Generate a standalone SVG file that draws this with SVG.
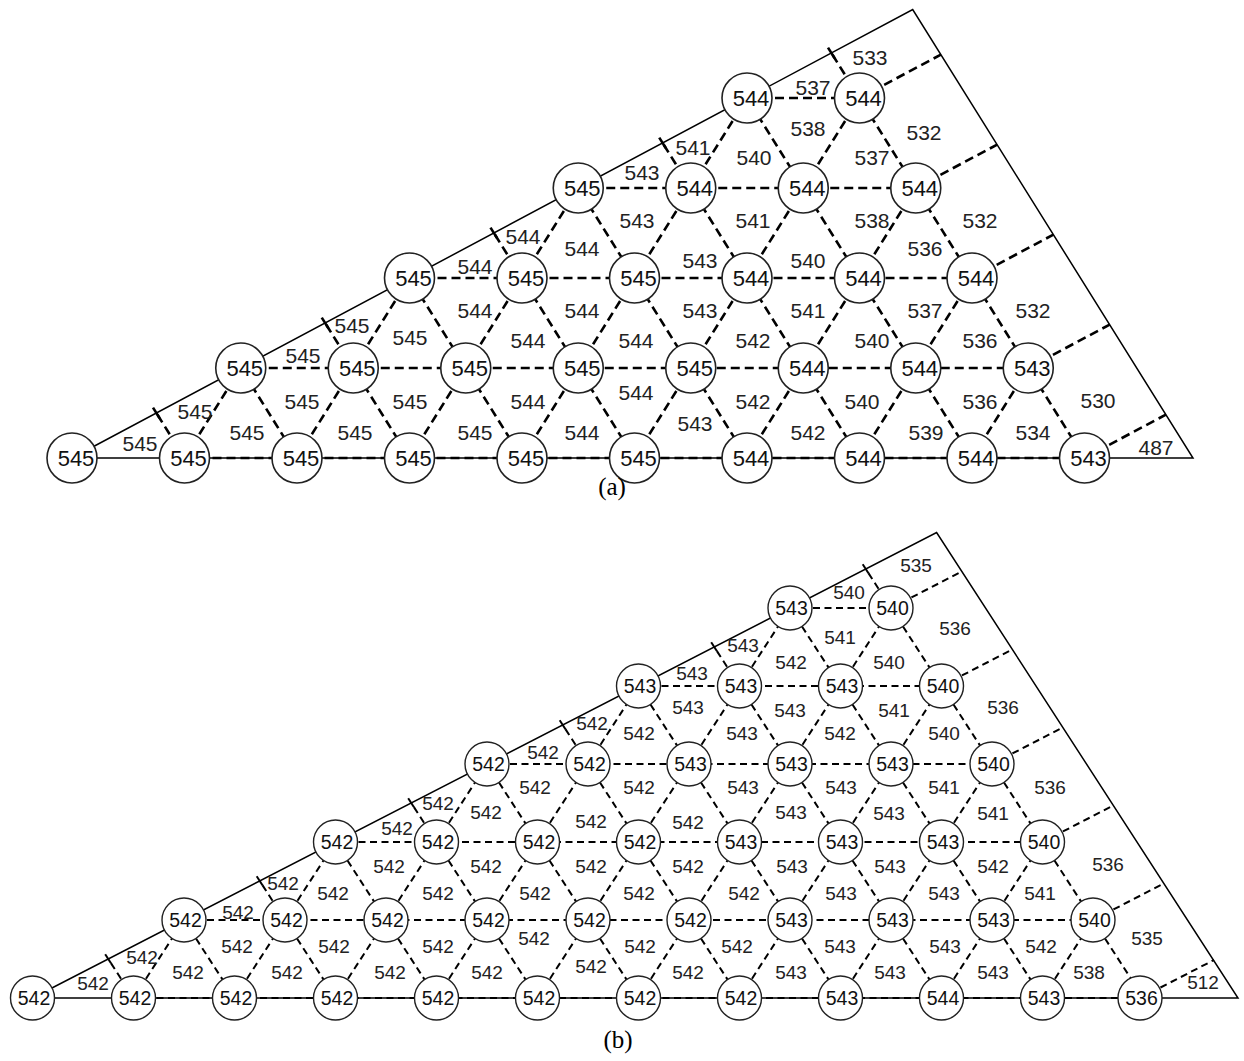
<svg xmlns="http://www.w3.org/2000/svg" width="1244" height="1061" viewBox="0 0 1244 1061">
<style>
.edge{fill:none;stroke:#000;stroke-width:1.5}
.da{fill:none;stroke:#000;stroke-width:2.6;stroke-dasharray:9 5}
.db{fill:none;stroke:#000;stroke-width:2;stroke-dasharray:7 4.5}
.na circle{fill:#fff;stroke:#222;stroke-width:1.6}
.nb circle{fill:#fff;stroke:#222;stroke-width:1.4}
.na text,.nb text,.la,.lb{font-family:"Liberation Sans",Arial,sans-serif;text-anchor:middle;fill:#111}
.na text{font-size:22px}
.nb text{font-size:19.5px}
.la{font-size:21px;fill:#222}
.lb{font-size:19px;fill:#222}
.cap{font-family:"Liberation Serif","Times New Roman",serif;font-size:25px;text-anchor:middle;fill:#000}
</style>
<defs>
<path id="va" d="M-56.25,90L0,0L56.25,90"/>
<g id="tka"><path d="M0,0L-28.1,-45"/><path d="M-24.9,-39.9L-31.5,-50.4" stroke-dasharray="none"/></g>
<path id="rda" d="M0,0L81.4,-43.4"/>
<path id="vb" d="M-50.5,78L0,0L50.5,78"/>
<g id="tkb"><path d="M0,0L-25.25,-39"/><path d="M-22.5,-34.8L-28.3,-43.7" stroke-dasharray="none"/></g>
<path id="rdb" d="M0,0L70.9,-36.5"/>
</defs>
<rect width="1244" height="1061" fill="#fff"/>

<g id="outline">
<polygon class="edge" points="72,458 1193,458 912.7,9.6"/>
<polygon class="edge" points="32.5,998 1238,998 936.6,532.5"/>
</g>

<g id="connectors">
<g id="connectors-a" class="da">
<path d="M184.5,458H1084.5M240.75,368H1028.25M409.5,278H972M578.25,188H915.75M747,98H859.5"/>
<use href="#va" x="240.75" y="368"/><use href="#va" x="353.25" y="368"/><use href="#va" x="465.75" y="368"/><use href="#va" x="578.25" y="368"/><use href="#va" x="690.75" y="368"/><use href="#va" x="803.25" y="368"/><use href="#va" x="915.75" y="368"/><use href="#va" x="1028.25" y="368"/>
<use href="#va" x="409.5" y="278"/><use href="#va" x="522" y="278"/><use href="#va" x="634.5" y="278"/><use href="#va" x="747" y="278"/><use href="#va" x="859.5" y="278"/><use href="#va" x="972" y="278"/>
<use href="#va" x="578.25" y="188"/><use href="#va" x="690.75" y="188"/><use href="#va" x="803.25" y="188"/><use href="#va" x="915.75" y="188"/>
<use href="#va" x="747" y="98"/><use href="#va" x="859.5" y="98"/>
<use href="#tka" x="184.5" y="458"/><use href="#tka" x="353.25" y="368"/><use href="#tka" x="522" y="278"/><use href="#tka" x="690.75" y="188"/><use href="#tka" x="859.5" y="98"/>
<use href="#rda" x="1084.5" y="458"/><use href="#rda" x="1028.25" y="368"/><use href="#rda" x="972" y="278"/><use href="#rda" x="915.75" y="188"/><use href="#rda" x="859.5" y="98"/>
</g>
<g id="connectors-b" class="db">
<path d="M133.5,998H1140M184,920H1093M335.5,842H1042.5M487,764H992M638.5,686H941.5M790,608H891M1140,998L1214,960"/>
<use href="#vb" x="184" y="920"/><use href="#vb" x="285" y="920"/><use href="#vb" x="386" y="920"/><use href="#vb" x="487" y="920"/><use href="#vb" x="588" y="920"/><use href="#vb" x="689" y="920"/><use href="#vb" x="790" y="920"/><use href="#vb" x="891" y="920"/><use href="#vb" x="992" y="920"/><use href="#vb" x="1093" y="920"/>
<use href="#vb" x="335.5" y="842"/><use href="#vb" x="436.5" y="842"/><use href="#vb" x="537.5" y="842"/><use href="#vb" x="638.5" y="842"/><use href="#vb" x="739.5" y="842"/><use href="#vb" x="840.5" y="842"/><use href="#vb" x="941.5" y="842"/><use href="#vb" x="1042.5" y="842"/>
<use href="#vb" x="487" y="764"/><use href="#vb" x="588" y="764"/><use href="#vb" x="689" y="764"/><use href="#vb" x="790" y="764"/><use href="#vb" x="891" y="764"/><use href="#vb" x="992" y="764"/>
<use href="#vb" x="638.5" y="686"/><use href="#vb" x="739.5" y="686"/><use href="#vb" x="840.5" y="686"/><use href="#vb" x="941.5" y="686"/>
<use href="#vb" x="790" y="608"/><use href="#vb" x="891" y="608"/>
<use href="#tkb" x="133.5" y="998"/><use href="#tkb" x="285" y="920"/><use href="#tkb" x="436.5" y="842"/><use href="#tkb" x="588" y="764"/><use href="#tkb" x="739.5" y="686"/><use href="#tkb" x="891" y="608"/>
<use href="#rdb" x="1093" y="920"/><use href="#rdb" x="1042.5" y="842"/><use href="#rdb" x="992" y="764"/><use href="#rdb" x="941.5" y="686"/><use href="#rdb" x="891" y="608"/>
</g>
</g>

<g id="nodes-a">
<g id="a0-0" class="na" transform="translate(72,458)"><circle r="25"/><text x="4" y="8">545</text></g>
<g id="a0-1" class="na" transform="translate(184.5,458)"><circle r="25"/><text x="4" y="8">545</text></g>
<g id="a0-2" class="na" transform="translate(297,458)"><circle r="25"/><text x="4" y="8">545</text></g>
<g id="a0-3" class="na" transform="translate(409.5,458)"><circle r="25"/><text x="4" y="8">545</text></g>
<g id="a0-4" class="na" transform="translate(522,458)"><circle r="25"/><text x="4" y="8">545</text></g>
<g id="a0-5" class="na" transform="translate(634.5,458)"><circle r="25"/><text x="4" y="8">545</text></g>
<g id="a0-6" class="na" transform="translate(747,458)"><circle r="25"/><text x="4" y="8">544</text></g>
<g id="a0-7" class="na" transform="translate(859.5,458)"><circle r="25"/><text x="4" y="8">544</text></g>
<g id="a0-8" class="na" transform="translate(972,458)"><circle r="25"/><text x="4" y="8">544</text></g>
<g id="a0-9" class="na" transform="translate(1084.5,458)"><circle r="25"/><text x="4" y="8">543</text></g>
<g id="a1-0" class="na" transform="translate(240.75,368)"><circle r="25"/><text x="4" y="8">545</text></g>
<g id="a1-1" class="na" transform="translate(353.25,368)"><circle r="25"/><text x="4" y="8">545</text></g>
<g id="a1-2" class="na" transform="translate(465.75,368)"><circle r="25"/><text x="4" y="8">545</text></g>
<g id="a1-3" class="na" transform="translate(578.25,368)"><circle r="25"/><text x="4" y="8">545</text></g>
<g id="a1-4" class="na" transform="translate(690.75,368)"><circle r="25"/><text x="4" y="8">545</text></g>
<g id="a1-5" class="na" transform="translate(803.25,368)"><circle r="25"/><text x="4" y="8">544</text></g>
<g id="a1-6" class="na" transform="translate(915.75,368)"><circle r="25"/><text x="4" y="8">544</text></g>
<g id="a1-7" class="na" transform="translate(1028.25,368)"><circle r="25"/><text x="4" y="8">543</text></g>
<g id="a2-0" class="na" transform="translate(409.5,278)"><circle r="25"/><text x="4" y="8">545</text></g>
<g id="a2-1" class="na" transform="translate(522,278)"><circle r="25"/><text x="4" y="8">545</text></g>
<g id="a2-2" class="na" transform="translate(634.5,278)"><circle r="25"/><text x="4" y="8">545</text></g>
<g id="a2-3" class="na" transform="translate(747,278)"><circle r="25"/><text x="4" y="8">544</text></g>
<g id="a2-4" class="na" transform="translate(859.5,278)"><circle r="25"/><text x="4" y="8">544</text></g>
<g id="a2-5" class="na" transform="translate(972,278)"><circle r="25"/><text x="4" y="8">544</text></g>
<g id="a3-0" class="na" transform="translate(578.25,188)"><circle r="25"/><text x="4" y="8">545</text></g>
<g id="a3-1" class="na" transform="translate(690.75,188)"><circle r="25"/><text x="4" y="8">544</text></g>
<g id="a3-2" class="na" transform="translate(803.25,188)"><circle r="25"/><text x="4" y="8">544</text></g>
<g id="a3-3" class="na" transform="translate(915.75,188)"><circle r="25"/><text x="4" y="8">544</text></g>
<g id="a4-0" class="na" transform="translate(747,98)"><circle r="25"/><text x="4" y="8">544</text></g>
<g id="a4-1" class="na" transform="translate(859.5,98)"><circle r="25"/><text x="4" y="8">544</text></g>
</g>

<g id="nodes-b">
<g id="b0-0" class="nb" transform="translate(32.5,998)"><circle r="22"/><text x="1.5" y="7">542</text></g>
<g id="b0-1" class="nb" transform="translate(133.5,998)"><circle r="22"/><text x="1.5" y="7">542</text></g>
<g id="b0-2" class="nb" transform="translate(234.5,998)"><circle r="22"/><text x="1.5" y="7">542</text></g>
<g id="b0-3" class="nb" transform="translate(335.5,998)"><circle r="22"/><text x="1.5" y="7">542</text></g>
<g id="b0-4" class="nb" transform="translate(436.5,998)"><circle r="22"/><text x="1.5" y="7">542</text></g>
<g id="b0-5" class="nb" transform="translate(537.5,998)"><circle r="22"/><text x="1.5" y="7">542</text></g>
<g id="b0-6" class="nb" transform="translate(638.5,998)"><circle r="22"/><text x="1.5" y="7">542</text></g>
<g id="b0-7" class="nb" transform="translate(739.5,998)"><circle r="22"/><text x="1.5" y="7">542</text></g>
<g id="b0-8" class="nb" transform="translate(840.5,998)"><circle r="22"/><text x="1.5" y="7">543</text></g>
<g id="b0-9" class="nb" transform="translate(941.5,998)"><circle r="22"/><text x="1.5" y="7">544</text></g>
<g id="b0-10" class="nb" transform="translate(1042.5,998)"><circle r="22"/><text x="1.5" y="7">543</text></g>
<g id="b0-11" class="nb" transform="translate(1140,998)"><circle r="22"/><text x="1.5" y="7">536</text></g>
<g id="b1-0" class="nb" transform="translate(184,920)"><circle r="22"/><text x="1.5" y="7">542</text></g>
<g id="b1-1" class="nb" transform="translate(285,920)"><circle r="22"/><text x="1.5" y="7">542</text></g>
<g id="b1-2" class="nb" transform="translate(386,920)"><circle r="22"/><text x="1.5" y="7">542</text></g>
<g id="b1-3" class="nb" transform="translate(487,920)"><circle r="22"/><text x="1.5" y="7">542</text></g>
<g id="b1-4" class="nb" transform="translate(588,920)"><circle r="22"/><text x="1.5" y="7">542</text></g>
<g id="b1-5" class="nb" transform="translate(689,920)"><circle r="22"/><text x="1.5" y="7">542</text></g>
<g id="b1-6" class="nb" transform="translate(790,920)"><circle r="22"/><text x="1.5" y="7">543</text></g>
<g id="b1-7" class="nb" transform="translate(891,920)"><circle r="22"/><text x="1.5" y="7">543</text></g>
<g id="b1-8" class="nb" transform="translate(992,920)"><circle r="22"/><text x="1.5" y="7">543</text></g>
<g id="b1-9" class="nb" transform="translate(1093,920)"><circle r="22"/><text x="1.5" y="7">540</text></g>
<g id="b2-0" class="nb" transform="translate(335.5,842)"><circle r="22"/><text x="1.5" y="7">542</text></g>
<g id="b2-1" class="nb" transform="translate(436.5,842)"><circle r="22"/><text x="1.5" y="7">542</text></g>
<g id="b2-2" class="nb" transform="translate(537.5,842)"><circle r="22"/><text x="1.5" y="7">542</text></g>
<g id="b2-3" class="nb" transform="translate(638.5,842)"><circle r="22"/><text x="1.5" y="7">542</text></g>
<g id="b2-4" class="nb" transform="translate(739.5,842)"><circle r="22"/><text x="1.5" y="7">543</text></g>
<g id="b2-5" class="nb" transform="translate(840.5,842)"><circle r="22"/><text x="1.5" y="7">543</text></g>
<g id="b2-6" class="nb" transform="translate(941.5,842)"><circle r="22"/><text x="1.5" y="7">543</text></g>
<g id="b2-7" class="nb" transform="translate(1042.5,842)"><circle r="22"/><text x="1.5" y="7">540</text></g>
<g id="b3-0" class="nb" transform="translate(487,764)"><circle r="22"/><text x="1.5" y="7">542</text></g>
<g id="b3-1" class="nb" transform="translate(588,764)"><circle r="22"/><text x="1.5" y="7">542</text></g>
<g id="b3-2" class="nb" transform="translate(689,764)"><circle r="22"/><text x="1.5" y="7">543</text></g>
<g id="b3-3" class="nb" transform="translate(790,764)"><circle r="22"/><text x="1.5" y="7">543</text></g>
<g id="b3-4" class="nb" transform="translate(891,764)"><circle r="22"/><text x="1.5" y="7">543</text></g>
<g id="b3-5" class="nb" transform="translate(992,764)"><circle r="22"/><text x="1.5" y="7">540</text></g>
<g id="b4-0" class="nb" transform="translate(638.5,686)"><circle r="22"/><text x="1.5" y="7">543</text></g>
<g id="b4-1" class="nb" transform="translate(739.5,686)"><circle r="22"/><text x="1.5" y="7">543</text></g>
<g id="b4-2" class="nb" transform="translate(840.5,686)"><circle r="22"/><text x="1.5" y="7">543</text></g>
<g id="b4-3" class="nb" transform="translate(941.5,686)"><circle r="22"/><text x="1.5" y="7">540</text></g>
<g id="b5-0" class="nb" transform="translate(790,608)"><circle r="22"/><text x="1.5" y="7">543</text></g>
<g id="b5-1" class="nb" transform="translate(891,608)"><circle r="22"/><text x="1.5" y="7">540</text></g>
</g>

<g id="labels-a" class="la">
<text x="140" y="450.5">545</text><text x="195" y="418.5">545</text>
<text x="303" y="362.5">545</text><text x="352" y="332.5">545</text>
<text x="475" y="273.5">544</text><text x="523" y="243.5">544</text>
<text x="642" y="179.5">543</text><text x="693" y="154.5">541</text>
<text x="813" y="94.5">537</text><text x="870" y="64.5">533</text>
<text x="247" y="439.5">545</text><text x="355" y="439.5">545</text><text x="475" y="439.5">545</text><text x="582" y="439.5">544</text><text x="695" y="430.5">543</text><text x="808" y="439.5">542</text><text x="926" y="439.5">539</text><text x="1033" y="439.5">534</text>
<text x="302" y="408.5">545</text><text x="410" y="408.5">545</text><text x="528" y="408.5">544</text><text x="636" y="399.5">544</text><text x="753" y="408.5">542</text><text x="862" y="408.5">540</text><text x="980" y="408.5">536</text>
<text x="1098" y="407.5">530</text><text x="1156" y="454.5">487</text>
<text x="410" y="344.5">545</text><text x="528" y="347.5">544</text><text x="636" y="347.5">544</text><text x="753" y="347.5">542</text><text x="872" y="347.5">540</text><text x="980" y="347.5">536</text>
<text x="475" y="317.5">544</text><text x="582" y="317.5">544</text><text x="700" y="317.5">543</text><text x="808" y="317.5">541</text><text x="925" y="317.5">537</text>
<text x="1033" y="317.5">532</text>
<text x="582" y="255.5">544</text><text x="700" y="267.5">543</text><text x="808" y="267.5">540</text><text x="925" y="255.5">536</text>
<text x="637" y="227.5">543</text><text x="753" y="227.5">541</text><text x="872" y="227.5">538</text>
<text x="980" y="227.5">532</text>
<text x="754" y="164.5">540</text><text x="872" y="164.5">537</text>
<text x="808" y="135.5">538</text>
<text x="924" y="139.5">532</text>
</g>

<g id="labels-b" class="lb">
<text x="93" y="990">542</text><text x="142" y="964">542</text>
<text x="238" y="919">542</text><text x="283" y="890">542</text>
<text x="397" y="835">542</text><text x="438" y="810">542</text>
<text x="543" y="759">542</text><text x="592" y="730">542</text>
<text x="692" y="680">543</text><text x="743" y="652">543</text>
<text x="849" y="599">540</text><text x="916" y="572">535</text>
<text x="188" y="979">542</text><text x="287" y="979">542</text><text x="390" y="979">542</text><text x="487" y="979">542</text><text x="591" y="973">542</text><text x="688" y="979">542</text><text x="791" y="979">543</text><text x="890" y="979">543</text><text x="993" y="979">543</text><text x="1089" y="979">538</text>
<text x="237" y="953">542</text><text x="334" y="953">542</text><text x="438" y="953">542</text><text x="534" y="945">542</text><text x="640" y="953">542</text><text x="737" y="953">542</text><text x="840" y="953">543</text><text x="945" y="953">543</text><text x="1041" y="953">542</text>
<text x="1147" y="945">535</text><text x="1203" y="989">512</text>
<text x="333" y="900">542</text><text x="438" y="900">542</text><text x="535" y="900">542</text><text x="639" y="900">542</text><text x="744" y="900">542</text><text x="841" y="900">543</text><text x="944" y="900">543</text><text x="1040" y="900">541</text>
<text x="389" y="873">542</text><text x="486" y="873">542</text><text x="591" y="873">542</text><text x="688" y="873">542</text><text x="792" y="873">543</text><text x="890" y="873">543</text><text x="993" y="873">542</text>
<text x="1108" y="871">536</text>
<text x="486" y="819">542</text><text x="591" y="828">542</text><text x="688" y="829">542</text><text x="791" y="819">543</text><text x="889" y="820">543</text><text x="993" y="820">541</text>
<text x="535" y="794">542</text><text x="639" y="794">542</text><text x="743" y="794">543</text><text x="841" y="794">543</text><text x="944" y="794">541</text>
<text x="1050" y="794">536</text>
<text x="639" y="740">542</text><text x="742" y="740">543</text><text x="840" y="740">542</text><text x="944" y="740">540</text>
<text x="688" y="714">543</text><text x="790" y="717">543</text><text x="894" y="717">541</text>
<text x="1003" y="714">536</text>
<text x="791" y="669">542</text><text x="889" y="669">540</text>
<text x="840" y="644">541</text>
<text x="955" y="635">536</text>
</g>

<g id="captions" class="cap">
<text x="612" y="495">(a)</text>
<text x="618" y="1048">(b)</text>
</g>
</svg>
